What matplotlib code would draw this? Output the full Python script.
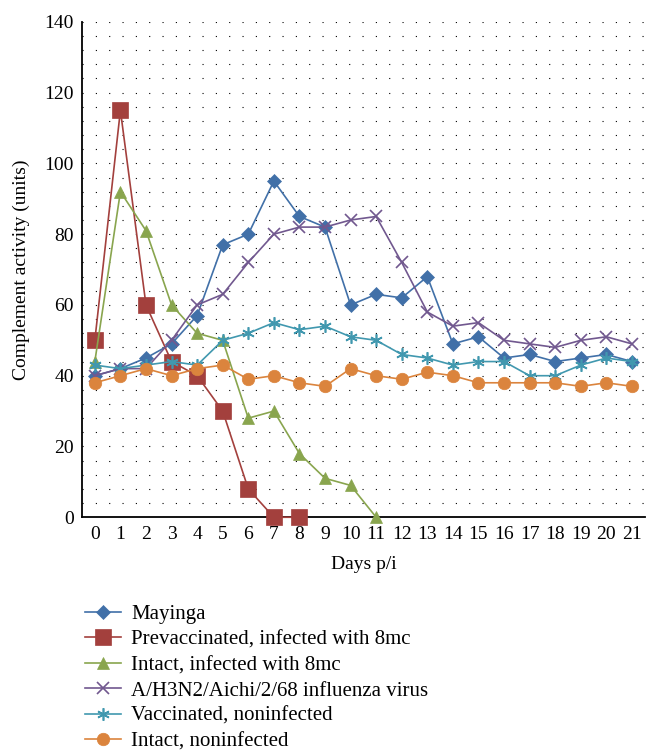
import matplotlib
matplotlib.use("Agg")
import matplotlib.pyplot as plt
import numpy as np

plt.rcParams['font.family'] = ['Liberation Serif', 'DejaVu Serif']

days = list(range(22))
mayinga = [40, 42, 45, 49, 57, 77, 80, 95, 85, 82, 60, 63, 62, 68, 49, 51, 45, 46, 44, 45, 46, 44]
prevacc = [50, 115, 60, 44, 40, 30, 8, 0, 0]
intact_inf = [44, 92, 81, 60, 52, 50, 28, 30, 18, 11, 9, 0]
h3n2 = [40, 42, 42, 50, 60, 63, 72, 80, 82, 82, 84, 85, 72, 58, 54, 55, 50, 49, 48, 50, 51, 49]
vacc_non = [43, 42, 43, 44, 43, 50, 52, 55, 53, 54, 51, 50, 46, 45, 43, 44, 44, 40, 40, 43, 45, 44]
intact_non = [38, 40, 42, 40, 42, 43, 39, 40, 38, 37, 42, 40, 39, 41, 40, 38, 38, 38, 38, 37, 38, 37]

labels = ["Mayinga", "Prevaccinated, infected with 8mc", "Intact, infected with 8mc",
          "A/H3N2/Aichi/2/68 influenza virus", "Vaccinated, noninfected", "Intact, noninfected"]

fig = plt.figure(figsize=(6.46, 7.54), dpi=100)
ax = fig.add_axes([0.127, 0.314, 0.871, 0.657])

series = [
    (mayinga, '#4170a8', 'D', 7),
    (prevacc, '#a3403d', 's', 11),
    (intact_inf, '#89a54e', '^', 9),
    (h3n2, '#71588f', 'x', 8),
    (vacc_non, '#4198af', (6, 2, 0), 9),
    (intact_non, '#db843d', 'o', 9),
]
for (vals, c, m, ms), lab in zip(series, labels):
    ax.plot(days[:len(vals)], vals, color=c, marker=m, markersize=ms, lw=1.2,
            label=lab, markeredgewidth=1.2 if m in ('x', (6, 2, 0)) else 0.5,
            markeredgecolor=c, clip_on=False, zorder=3)

ax.set_xlim(-0.5, 21.5)
ax.set_ylim(0, 140)
ax.set_xticks(days)
ax.set_yticks(range(0, 141, 20))
ax.set_yticks(range(0, 141, 4), minor=True)
ax.yaxis.grid(True, which='both', linestyle=(0, (1, 11)), color='black', lw=0.8)
ax.set_axisbelow(True)
for s in ['top', 'right']:
    ax.spines[s].set_visible(False)
ax.spines['left'].set_linewidth(1.3)
ax.spines['bottom'].set_linewidth(1.3)
ax.tick_params(axis='both', which='both', length=0, labelsize=14, pad=6)
ax.set_xlabel("Days p/i", fontsize=14, labelpad=10)
ax.set_ylabel("Complement activity (units)", fontsize=14, labelpad=10)

fig.legend(loc='upper left', bbox_to_anchor=(0.118, 0.209), frameon=False,
           fontsize=15, handlelength=1.75, labelspacing=0.28, handletextpad=0.5,
           borderaxespad=0)
fig.savefig("out.png", dpi=100)
